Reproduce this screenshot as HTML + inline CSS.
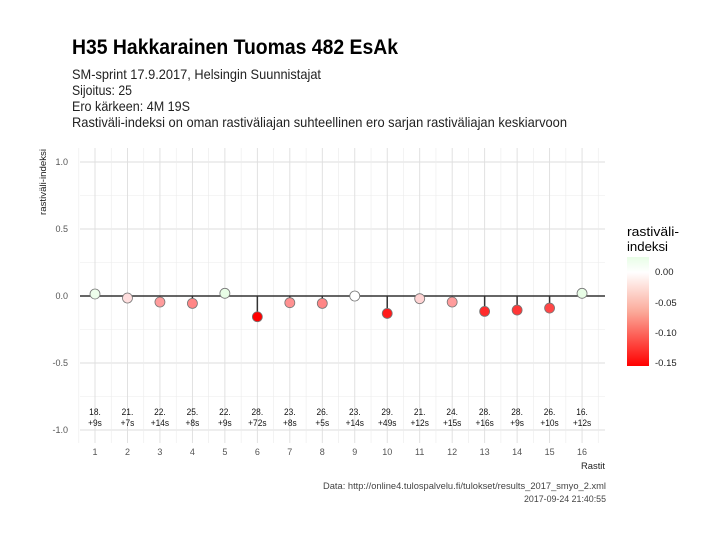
<!DOCTYPE html><html><head><style>body{margin:0;background:#fff}svg{display:block;font-family:"Liberation Sans",sans-serif}</style></head><body>
<svg width="720" height="540" xmlns="http://www.w3.org/2000/svg">
<defs><linearGradient id="g" x1="0" y1="0" x2="0" y2="1"><stop offset="0" stop-color="#e8fde6"/><stop offset="0.14" stop-color="#fff"/><stop offset="0.5" stop-color="#fbaa9a"/><stop offset="1" stop-color="#ff0000"/></linearGradient></defs>
<text x="72" y="54" font-size="21" font-weight="bold" fill="#000" textLength="326" lengthAdjust="spacingAndGlyphs">H35 Hakkarainen Tuomas 482 EsAk</text>
<g font-size="14" fill="#222"><text x="72" y="79" textLength="249" lengthAdjust="spacingAndGlyphs">SM-sprint 17.9.2017, Helsingin Suunnistajat</text><text x="72" y="95" textLength="60" lengthAdjust="spacingAndGlyphs">Sijoitus: 25</text><text x="72" y="111" textLength="118" lengthAdjust="spacingAndGlyphs">Ero kärkeen: 4M 19S</text><text x="72" y="127" textLength="495" lengthAdjust="spacingAndGlyphs">Rastiväli-indeksi on oman rastiväliajan suhteellinen ero sarjan rastiväliajan keskiarvoon</text></g>
<g stroke="#ebebeb" stroke-width="0.6"><line x1="80" x2="605" y1="195.5" y2="195.5"/><line x1="80" x2="605" y1="262.5" y2="262.5"/><line x1="80" x2="605" y1="329.5" y2="329.5"/><line x1="80" x2="605" y1="396.5" y2="396.5"/></g>
<g stroke="#dedede" stroke-width="0.9" id="grid"></g>
<g id="pts"></g>
<g font-size="9" fill="#555" text-anchor="end"><text x="68" y="165">1.0</text><text x="68" y="232">0.5</text><text x="68" y="299">0.0</text><text x="68" y="366">-0.5</text><text x="68" y="433">-1.0</text></g>
<text transform="translate(46,182) rotate(-90)" font-size="9.5" fill="#222" text-anchor="middle" textLength="66" lengthAdjust="spacingAndGlyphs">rastiväli-indeksi</text>
<text x="605" y="469" font-size="9.5" fill="#222" text-anchor="end" textLength="24" lengthAdjust="spacingAndGlyphs">Rastit</text>
<g font-size="9" fill="#444" text-anchor="end"><text x="606" y="489" textLength="283" lengthAdjust="spacingAndGlyphs">Data: http://online4.tulospalvelu.fi/tulokset/results_2017_smyo_2.xml</text><text x="606" y="502" textLength="82" lengthAdjust="spacingAndGlyphs">2017-09-24 21:40:55</text></g>
<text x="627" y="236" font-size="12.5" fill="#000" textLength="52" lengthAdjust="spacingAndGlyphs">rastiväli-</text><text x="627" y="251" font-size="12.5" fill="#000" textLength="41" lengthAdjust="spacingAndGlyphs">indeksi</text>
<rect x="627" y="257" width="22" height="109" fill="url(#g)"/>
<g font-size="9.5" fill="#222"><text x="655" y="275">0.00</text><text x="655" y="306">-0.05</text><text x="655" y="336">-0.10</text><text x="655" y="366">-0.15</text></g>
</svg>
<script>
const ns="http://www.w3.org/2000/svg";
const v=[0.015,-0.015,-0.045,-0.055,0.02,-0.155,-0.05,-0.055,0,-0.13,-0.02,-0.045,-0.115,-0.105,-0.09,0.02];
const lab=[["18.","+9s"],["21.","+7s"],["22.","+14s"],["25.","+8s"],["22.","+9s"],["28.","+72s"],["23.","+8s"],["26.","+5s"],["23.","+14s"],["29.","+49s"],["21.","+12s"],["24.","+15s"],["28.","+16s"],["28.","+9s"],["26.","+10s"],["16.","+12s"]];
const X=i=>95+(i)*32.47, Y=y=>296-y*134;
let g=document.getElementById('grid'),p=document.getElementById('pts'),h='';
for(let y of [162,229,296,363,430])h+=`<line x1="80" x2="605" y1="${y}" y2="${y}"/>`;
for(let i=0;i<16;i++){h+=`<line x1="${X(i)}" x2="${X(i)}" y1="148" y2="443"/>`;h+=`<line stroke="#ebebeb" stroke-width="0.6" x1="${X(i)-16.2}" x2="${X(i)-16.2}" y1="148" y2="443"/>`;}
h+=`<line stroke="#ebebeb" stroke-width="0.6" x1="${X(15)+16.2}" x2="${X(15)+16.2}" y1="148" y2="443"/>`;
g.innerHTML=h;
function col(t){if(t>=0){let a=Math.min(t/0.02,1);return `rgb(${255-23*a},${255-2*a},${255-25*a})`;}let a=Math.min(-t/0.155,1);let gr=a<0.5?255-170*a*2:85-85*(a-0.5)*2;let b=gr;return `rgb(255,${gr|0},${b|0})`;}
let s=`<line x1="80" x2="605" y1="296" y2="296" stroke="#333" stroke-width="1.5"/>`;
for(let i=0;i<16;i++){s+=`<line x1="${X(i)}" x2="${X(i)}" y1="296" y2="${Y(v[i])}" stroke="#333" stroke-width="1.5"/>`;
s+=`<circle cx="${X(i)}" cy="${Y(v[i])}" r="5" fill="${col(v[i])}" stroke="#777" stroke-width="0.8"/>`;
s+=`<text x="${X(i)}" y="415" font-size="9.5" text-anchor="middle" fill="#111" transform="translate(${X(i)*0.12},0) scale(0.88,1)">${lab[i][0]}</text><text x="${X(i)}" y="426" font-size="9.5" text-anchor="middle" fill="#111" transform="translate(${X(i)*0.12},0) scale(0.88,1)">${lab[i][1]}</text>`;
s+=`<text x="${X(i)}" y="455" font-size="9" text-anchor="middle" fill="#555">${i+1}</text>`;}
p.innerHTML=s;
</script>
</body></html>
